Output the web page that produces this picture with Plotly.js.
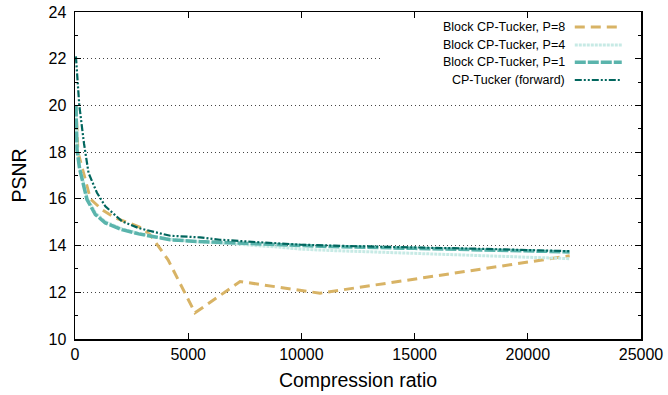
<!DOCTYPE html>
<html>
<head>
<meta charset="utf-8">
<script src="https://cdn.plot.ly/plotly-3.0.1.min.js"></script>
<style>
  html, body { margin: 0; padding: 0; background: #fff; }
  #chart { width: 668px; height: 395px; }
</style>
</head>
<body>
<div id="chart"></div>
<script>
// PSNR versus compression ratio for the CP-Tucker variants
const seriesNames = [
  "Block CP-Tucker, P=8",
  "Block CP-Tucker, P=4",
  "Block CP-Tucker, P=1",
  "CP-Tucker (forward)"
];

const ratioP8 = [40, 130, 455, 676, 1190, 1780, 2370, 2960, 3330, 4110, 5300, 7290, 10820, 21850];
const psnrP8  = [20.0, 18.0, 16.83, 16.0, 15.54, 15.18, 14.97, 14.75, 14.45, 13.39, 11.12, 12.46, 11.96, 13.56];

const ratioP4 = [40, 90, 200, 310, 530, 900, 1340, 2075, 2810, 3550, 4200, 5500, 6850, 9050, 9940, 11260, 14355, 18770, 21850];
const psnrP4  = [20.0, 18.2, 17.4, 16.9, 16.05, 15.4, 15.02, 14.72, 14.52, 14.38, 14.27, 14.15, 14.08, 13.93, 13.85, 13.79, 13.68, 13.54, 13.44];

const ratioP1 = [40, 90, 200, 310, 530, 900, 1340, 2075, 2810, 3550, 4200, 5500, 6850, 9050, 11260, 15000, 18770, 21850];
const psnrP1  = [20.0, 18.1, 17.3, 16.83, 15.97, 15.33, 14.97, 14.68, 14.5, 14.37, 14.25, 14.17, 14.12, 14.02, 13.96, 13.88, 13.8, 13.73];

const ratioFwd = [40, 190, 400, 600, 970, 1340, 2075, 2810, 3550, 4210, 5520, 6400, 8000, 9940, 12000, 15000, 18000, 21850];
const psnrFwd  = [22.1, 20.0, 18.35, 17.1, 16.26, 15.68, 15.04, 14.75, 14.57, 14.42, 14.35, 14.25, 14.15, 14.04, 13.98, 13.93, 13.86, 13.76];

const xTicks = [0, 5000, 10000, 15000, 20000, 25000];
const yTicks = [10, 12, 14, 16, 18, 20, 22, 24];

const styles = [
  { color: "#d8b365", width: 3,   dash: "10px,6px" },
  { color: "#c7eae5", width: 3,   dash: "3px,1px" },
  { color: "#5ab4ac", width: 3.5, dash: "11px,2px" },
  { color: "#01665e", width: 2.2, dash: "7px,2px,2px,2px,2px,2px" }
];

const xs = [ratioP8, ratioP4, ratioP1, ratioFwd];
const ys = [psnrP8, psnrP4, psnrP1, psnrFwd];

const traces = seriesNames.map((name, i) => ({
  type: "scatter",
  mode: "lines",
  name: name,
  x: xs[i],
  y: ys[i],
  line: { color: styles[i].color, width: styles[i].width, dash: styles[i].dash },
  showlegend: false,
  hoverinfo: "skip"
}));

// Key drawn gnuplot-style: right-aligned label, line sample on its right,
// on an opaque box that hides the grid behind it (axis ticks stay visible).
const keyTop = [0.954, 0.899, 0.846, 0.792];
const keyTextX = 0.869, keyLine0 = 0.883, keyLine1 = 0.966;

const shapes = [{
  type: "rect", xref: "paper", yref: "paper", layer: "above",
  x0: 0.539, x1: 0.985, y0: 0.765, y1: 0.979,
  fillcolor: "#ffffff", line: { width: 0 }
}];
const annotations = [];
seriesNames.forEach((name, i) => {
  shapes.push({
    type: "line", xref: "paper", yref: "paper", layer: "above",
    x0: keyLine0, x1: keyLine1, y0: keyTop[i], y1: keyTop[i],
    line: { color: styles[i].color, width: styles[i].width, dash: styles[i].dash }
  });
  annotations.push({
    xref: "paper", yref: "paper", x: keyTextX, y: keyTop[i],
    xanchor: "right", yanchor: "middle", showarrow: false,
    text: name,
    font: { family: "Liberation Sans, Arial, sans-serif", size: 12.5, color: "#000" }
  });
});

const tickFont = { family: "Liberation Sans, Arial, sans-serif", size: 16, color: "#000" };
const titleFont = { family: "Liberation Sans, Arial, sans-serif", size: 19.5, color: "#000" };

const layout = {
  width: 668,
  height: 395,
  margin: { l: 75, r: 27, t: 12, b: 56, pad: 0 },
  paper_bgcolor: "#fff",
  plot_bgcolor: "#fff",
  xaxis: {
    range: [0, 25000],
    tickvals: xTicks,
    ticktext: xTicks.map(String),
    ticks: "inside", ticklen: 6, tickwidth: 1, tickcolor: "#000",
    showline: true, linecolor: "#000", linewidth: 1.5, mirror: "ticks",
    showgrid: false, zeroline: false,
    tickfont: tickFont,
    title: { text: "Compression ratio", font: titleFont, standoff: 11 },
    automargin: false
  },
  yaxis: {
    range: [10, 24],
    tickvals: yTicks,
    ticktext: yTicks.map(String),
    ticks: "inside", ticklen: 6, tickwidth: 1, tickcolor: "#000",
    minor: { ticks: "inside", ticklen: 3, tickwidth: 1, tickcolor: "#000", dtick: 1, tick0: 11, showgrid: false },
    showline: true, linecolor: "#000", linewidth: 1.5, mirror: "ticks",
    showgrid: true, gridcolor: "#444", gridwidth: 1, griddash: "1px,3px",
    zeroline: false,
    tickfont: tickFont,
    ticklabelstandoff: 4,
    title: { text: "PSNR", font: titleFont, standoff: 16 },
    automargin: false
  },
  shapes: shapes,
  annotations: annotations,
  showlegend: false
};

Plotly.newPlot("chart", traces, layout, { staticPlot: true, displayModeBar: false });
</script>
</body>
</html>
